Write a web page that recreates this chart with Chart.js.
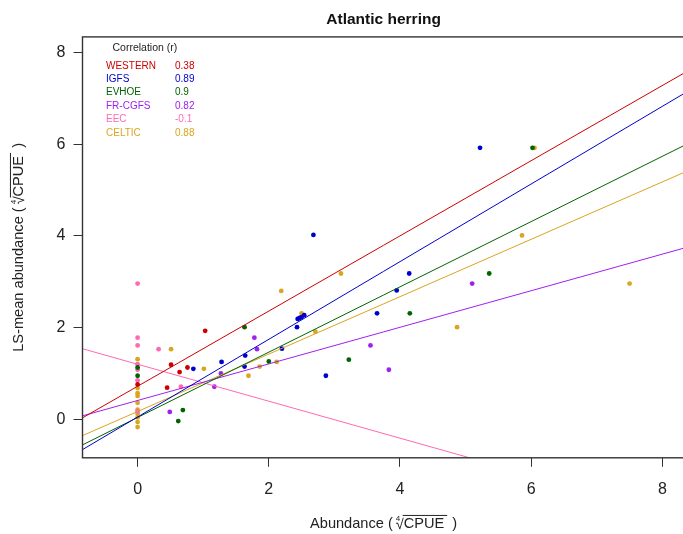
<!DOCTYPE html>
<html>
<head>
<meta charset="utf-8">
<script src="https://cdn.jsdelivr.net/npm/chart.js@4/dist/chart.umd.min.js"></script>
<style>
  html, body { margin: 0; padding: 0; background: #fff; overflow: hidden; }
  #wrap { width: 690px; height: 534px; }
</style>
</head>
<body>
<div id="wrap"><canvas id="c" width="690" height="534"></canvas></div>
<script>
// Survey names, colours and correlation coefficients
const surveys = ["WESTERN", "IGFS", "EVHOE", "FR-CGFS", "EEC", "CELTIC"];
const colors = ["#CD0000", "#0000CD", "#006400", "#A020F0", "#FF69B4", "#DAA520"];
const corrLabels = ["0.38", "0.89", "0.9", "0.82", "-0.1", "0.88"];

// Abundance (x) vs LS-mean abundance (y), fourth-root CPUE
const westernX = [0, 0.45, 0.51, 0.64, 0.76, 1.03];
const westernY = [0.76, 0.69, 1.19, 1.03, 1.13, 1.93];

const igfsX = [0.85, 1.28, 1.63, 1.64, 2.20, 2.43, 2.44, 2.47, 2.50, 2.54, 2.68, 2.87, 3.65, 3.95, 4.14, 5.22];
const igfsY = [1.10, 1.25, 1.15, 1.39, 1.54, 2.01, 2.19, 2.21, 2.23, 2.27, 4.02, 0.95, 2.31, 2.81, 3.18, 5.92];

const evhoeX = [0, 0, 0.62, 0.69, 1.63, 2.00, 3.22, 4.15, 5.36, 6.02];
const evhoeY = [1.13, 0.95, -0.04, 0.20, 2.01, 1.26, 1.30, 2.31, 3.18, 5.92];

const frcgfsX = [0.49, 1.17, 1.27, 1.78, 1.82, 3.55, 3.83, 5.10];
const frcgfsY = [0.16, 0.71, 1.00, 1.78, 1.53, 1.61, 1.08, 2.96];

const eecX = [0, 0, 0, 0, 0, 0, 0, 0.32, 0.66];
const eecY = [2.96, 1.78, 1.61, 1.20, 1.08, 0.85, 0.17, 1.53, 0.71];

const celticX = [0, 0, 0, 0, 0, 0, 0, 0, 0, 0, 0.51, 1.01, 1.69, 1.86, 2.12, 2.19, 2.50, 2.71, 3.10, 4.87, 5.86, 6.05, 7.50];
const celticY = [1.31, 0.68, 0.57, 0.51, 0.36, 0.21, 0.12, 0.04, -0.06, -0.17, 1.53, 1.10, 0.95, 1.15, 1.25, 2.80, 2.31, 1.91, 3.18, 2.01, 4.01, 5.92, 2.96];

// Fitted regression lines: y = intercept + slope * x
const slopes = [0.82, 0.847, 0.712, 0.399, -0.403, 0.626];
const intercepts = [0.72, 0.05, 0.04, 0.41, 1.20, 0.17];

// Axis settings
const axisMin = -0.84;
const axisMax = 8.34;
const tickValues = [0, 2, 4, 6, 8];

const seriesX = [westernX, igfsX, evhoeX, frcgfsX, eecX, celticX];
const seriesY = [westernY, igfsY, evhoeY, frcgfsY, eecY, celticY];

const FONT = "'Liberation Sans', Arial, Helvetica, sans-serif";
const TEXT = "#222222";

const datasets = [];
surveys.forEach((name, i) => {
  datasets.push({
    label: name,
    type: "scatter",
    data: seriesX[i].map((x, k) => ({ x: x, y: seriesY[i][k] })),
    backgroundColor: colors[i],
    borderColor: colors[i],
    pointRadius: 2.4,
    pointBorderWidth: 0,
    order: 2
  });
});
surveys.forEach((name, i) => {
  datasets.push({
    label: name + " fit",
    type: "line",
    data: [axisMin, axisMax].map(x => ({ x: x, y: intercepts[i] + slopes[i] * x })),
    borderColor: colors[i],
    borderWidth: 1,
    pointRadius: 0,
    fill: false,
    tension: 0,
    order: 1
  });
});

// Draws "<pre> ⁴√CPUE )" with a small index and an overline on the radicand
function drawRootLabel(ctx, pre, cx, baseY, fontPx) {
  const font = fontPx + "px " + FONT;
  const small = Math.round(fontPx * 0.55) + "px " + FONT;
  ctx.font = font;
  const wPre = ctx.measureText(pre).width;
  const wRad = ctx.measureText("\u221A").width * 0.85;
  const wBody = ctx.measureText("CPUE").width;
  const wPost = ctx.measureText("  )").width;
  const total = wPre + wRad + wBody + wPost;
  let x = cx - total / 2;
  ctx.fillStyle = TEXT;
  ctx.textBaseline = "alphabetic";
  ctx.textAlign = "left";
  ctx.fillText(pre, x, baseY);
  x += wPre;
  // index
  ctx.font = small;
  ctx.fillText("4", x - 1, baseY - fontPx * 0.5);
  // radical sign
  ctx.font = font;
  ctx.fillText("\u221A", x - 1, baseY + 1);
  const overlineY = baseY - fontPx * 0.86;
  x += wRad;
  ctx.fillText("CPUE", x, baseY);
  ctx.strokeStyle = TEXT;
  ctx.lineWidth = 1;
  ctx.beginPath();
  ctx.moveTo(x - 1, overlineY);
  ctx.lineTo(x + wBody + 3, overlineY);
  ctx.stroke();
  x += wBody;
  ctx.fillText("  )", x, baseY);
}

const decorations = {
  id: "decorations",
  afterDraw(chart) {
    const ctx = chart.ctx;
    const a = chart.chartArea;
    ctx.save();
    // plot box
    ctx.strokeStyle = "#333";
    ctx.lineWidth = 1.4;
    ctx.strokeRect(a.left, a.top, a.right - a.left, a.bottom - a.top);

    // title
    const cx = (a.left + a.right) / 2;
    ctx.fillStyle = "#111";
    ctx.font = "bold 15.5px " + FONT;
    ctx.textAlign = "center";
    ctx.textBaseline = "alphabetic";
    ctx.fillText("Atlantic herring", cx, 24);

    // x axis title
    drawRootLabel(ctx, "Abundance ( ", cx, 528, 14.6);

    // y axis title (rotated)
    ctx.save();
    ctx.translate(23, (a.top + a.bottom) / 2);
    ctx.rotate(-Math.PI / 2);
    drawRootLabel(ctx, "LS-mean abundance ( ", 0, 0, 14.6);
    ctx.restore();

    // correlation legend
    ctx.textAlign = "left";
    ctx.textBaseline = "middle";
    ctx.font = "10.5px " + FONT;
    ctx.fillStyle = TEXT;
    ctx.fillText("Correlation (r)", 112.5, 48.5);
    ctx.font = "10px " + FONT;
    surveys.forEach((name, i) => {
      const y = 65.8 + i * 13.4;
      ctx.fillStyle = colors[i];
      ctx.fillText(name, 106, y);
      ctx.fillText(corrLabels[i], 175, y);
    });
    ctx.restore();
  }
};

new Chart(document.getElementById("c"), {
  type: "scatter",
  data: { datasets: datasets },
  options: {
    responsive: false,
    animation: false,
    events: [],
    layout: { padding: { top: 36.9, right: 5.3, left: 0, bottom: 0 } },
    plugins: {
      legend: { display: false },
      title: { display: false },
      tooltip: { enabled: false }
    },
    scales: {
      x: {
        type: "linear",
        min: axisMin,
        max: axisMax,
        afterBuildTicks: s => { s.ticks = tickValues.map(v => ({ value: v })); },
        afterFit: s => { s.height = 76.2; },
        grid: { drawOnChartArea: false, drawTicks: true, tickLength: 9, color: "#333", lineWidth: 1 },
        border: { display: false },
        ticks: { color: TEXT, font: { family: FONT, size: 16 }, padding: 13, maxRotation: 0 }
      },
      y: {
        type: "linear",
        min: axisMin,
        max: axisMax,
        afterBuildTicks: s => { s.ticks = tickValues.map(v => ({ value: v })); },
        afterFit: s => { s.width = 82.5; },
        grid: { drawOnChartArea: false, drawTicks: true, tickLength: 9, color: "#333", lineWidth: 1 },
        border: { display: false },
        ticks: { color: TEXT, font: { family: FONT, size: 16 }, padding: 8 }
      }
    }
  },
  plugins: [decorations]
});
</script>
</body>
</html>
